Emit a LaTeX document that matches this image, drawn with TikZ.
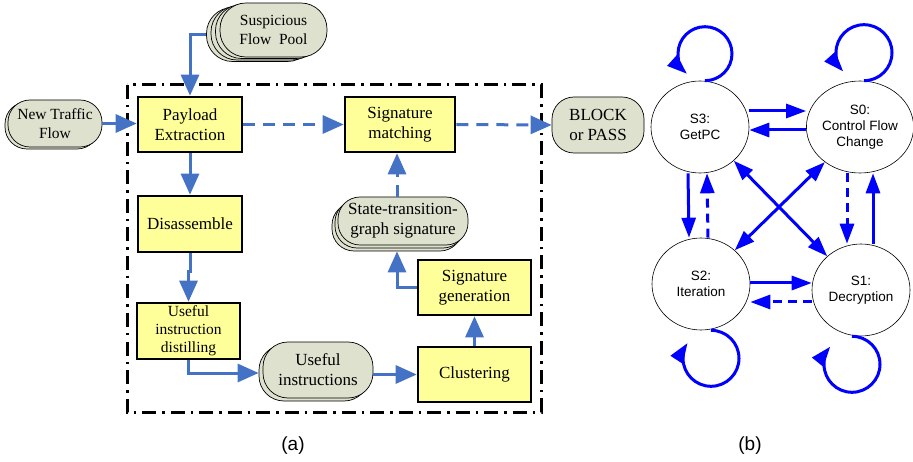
\documentclass[tikz,border=0pt]{standalone}
\usepackage{fontspec}
\setmainfont{Liberation Serif}
\newfontfamily\sansf{Liberation Sans}
\usetikzlibrary{arrows.meta,shapes.geometric}
\definecolor{ybox}{RGB}{255,255,153}
\definecolor{gpill}{RGB}{221,225,205}
\definecolor{ablue}{RGB}{68,114,196}
\begin{document}
\begin{tikzpicture}[x=1pt,y=-1pt,
  procbox/.style={draw=black,line width=2.6pt,fill=ybox,inner sep=0pt,align=center,
    font=\fontsize{17}{20}\selectfont},
  pill/.style={draw=black,line width=0.7pt,fill=gpill,rounded corners=22pt,inner sep=0pt,
    align=center,font=\fontsize{17}{20}\selectfont},
  flow/.style={ablue,line width=3pt,-{Triangle[length=21pt,width=18pt]}},
  dflow/.style={flow,dash pattern=on 12pt off 8pt},
  state/.style={ellipse,draw=black,line width=0.6pt,minimum width=98pt,minimum height=92pt,
    inner sep=0pt,align=center,font=\sansf\fontsize{13.5}{16}\selectfont},
  bar/.style={blue,line width=3pt,-{Triangle[length=20pt,width=14pt]}},
  bdash/.style={bar,dash pattern=on 9pt off 6pt},
  bboth/.style={blue,line width=3pt,{Triangle[length=20pt,width=14pt]}-{Triangle[length=20pt,width=14pt]}},
  caption/.style={font=\sansf\fontsize{19}{22}\selectfont}]
\useasboundingbox (0,0) rectangle (913,462);

% frame
\draw[line width=3pt,dash pattern=on 14pt off 6pt on 2.5pt off 6pt] (127,85) rectangle (541,412);

% stacked pills
\node[pill,rounded corners=26pt,minimum width=107pt,minimum height=54pt] (susp3) at (260,34.5) {};
\node[pill,rounded corners=26pt,minimum width=107pt,minimum height=54pt] (susp2) at (264.5,33) {};
\node[pill,rounded corners=26pt,minimum width=107pt,minimum height=54pt] (susp1) at (269,31.5) {};
\node[pill,rounded corners=26pt,minimum width=107pt,minimum height=54pt,font=\fontsize{15.5}{18.5}\selectfont] (susp) at (273.5,30) {Suspicious\\Flow\ \ Pool};

\node[pill,minimum width=94pt,minimum height=47pt] (ntb) at (52,125.5) {};
\node[pill,minimum width=94pt,minimum height=47pt,font=\fontsize{15.5}{19}\selectfont] (nt) at (55,123.5) {New Traffic\\Flow};

\node[pill,rounded corners=25pt,minimum width=110pt,minimum height=56pt] (uib) at (314,373) {};
\node[pill,rounded corners=25pt,minimum width=110pt,minimum height=56pt] (ui) at (318,370) {Useful\\instructions};

\node[pill,minimum width=130pt,minimum height=48pt] (st2) at (397,227) {};
\node[pill,minimum width=130pt,minimum height=48pt] (st1) at (400,224) {};
\node[pill,minimum width=130pt,minimum height=48pt] (st) at (403,221) {State-transition-\\graph signature};

\node[pill,minimum width=92pt,minimum height=56pt] (block) at (598,125) {BLOCK\\or PASS};

% process boxes
\node[procbox,minimum width=104pt,minimum height=55pt] (pay) at (190,124.5) {Payload\\Extraction};
\node[procbox,minimum width=104pt,minimum height=56pt] (dis) at (190,224) {Disassemble};
\node[procbox,minimum width=103pt,minimum height=56pt,font=\fontsize{15.5}{18}\selectfont] (dist) at (188.5,331) {Useful\\instruction\\distilling};
\node[procbox,minimum width=113pt,minimum height=55pt] (clu) at (474.5,374.5) {Clustering};
\node[procbox,minimum width=113pt,minimum height=55pt] (gen) at (474.5,287.5) {Signature\\generation};
\node[procbox,minimum width=110pt,minimum height=55pt] (match) at (400,124.5) {Signature\\matching};

% connectors (a)
\draw[flow] (nt.east) -- (nt.east -| pay.west);
\draw[flow] (susp3.west) -| (pay.north);
\draw[flow] (pay.south) -- (dis.north);
\draw[flow] (dis.south) -- ++(0,18) -| (dist.north);
\draw[flow] (dist.south) |- (uib.west);
\draw[flow] (ui.east |- clu.west) -- (clu.west);
\draw[flow] (clu.north) -- (gen.south);
\draw[flow] (gen.west) -| (st2.south);
\draw[dflow] (st2.south |- st.north) -- (st2.south |- match.south);
\draw[dflow] (pay.east) -- (match.west);
\draw[dflow] (match.east) -- (block.west);

% states (b)
\node[state] (S3) at (700,127) {S3:\\GetPC};
\node[state] (S0) at (860,127) {S0:\\Control Flow\\Change};
\node[state] (S2) at (701,284) {S2:\\Iteration};
\node[state] (S1) at (861,290) {S1:\\Decryption};

\draw[bar] ([yshift=16pt]S3.east) -- ([yshift=16pt]S0.west);
\draw[bar] ([yshift=-3pt]S0.west) -- ([yshift=-3pt]S3.east);
\draw[bar] ([xshift=-12pt]S3.south) -- ([xshift=-12pt]S2.north);
\draw[bdash] ([xshift=7pt]S2.north) -- ([xshift=7pt]S3.south);
\draw[bdash] ([xshift=-13pt]S0.south) -- ([xshift=-14pt]S1.north);
\draw[bar] ([xshift=12pt]S1.north) -- ([xshift=13pt]S0.south);
\draw[bar] ([yshift=1pt]S2.east) -- ([yshift=7pt]S1.west);
\draw[bdash] ([yshift=-12pt]S1.west) -- ([yshift=-18pt]S2.east);
\draw[bboth] (S0.225) -- (S2.45);
\draw[bboth] (S3.-45) -- (S1.135);

\draw[bar] ([xshift=5pt]S3.north) arc[start angle=-90,end angle=228,radius=27pt];
\draw[bar] ([xshift=4pt]S0.north) arc[start angle=-90,end angle=222,radius=28pt];
\draw[bar] ([xshift=10pt]S2.south) arc[start angle=90,end angle=-213,radius=28pt];
\draw[bar] ([xshift=-9pt]S1.south) arc[start angle=90,end angle=-219,radius=28pt];

\node[caption] (la) at (293,446) {(a)};
\node[caption] (lb) at (750,446) {(b)};
\end{tikzpicture}
\end{document}
